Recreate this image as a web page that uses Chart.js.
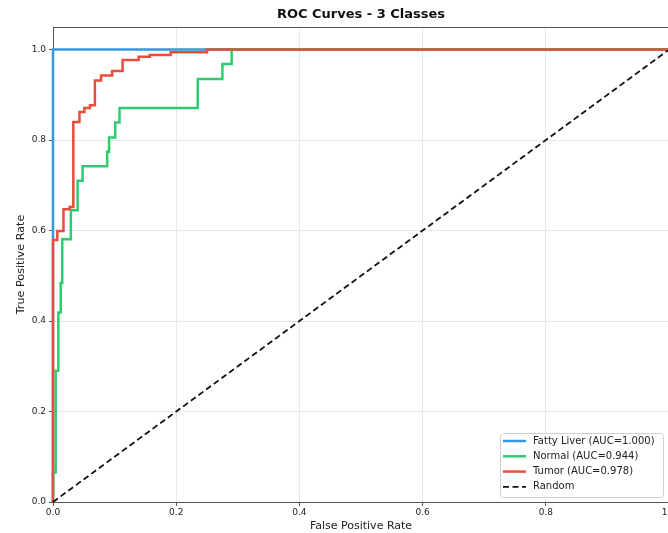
<!DOCTYPE html>
<html>
<head>
<meta charset="utf-8">
<script src="https://cdn.jsdelivr.net/npm/chart.js@4.4.0/dist/chart.umd.min.js"></script>
<style>
  html, body { margin: 0; padding: 0; background: #fff; overflow: hidden; }
  #wrap { width: 700px; height: 533px; }
</style>
</head>
<body>
<div id="wrap"><canvas id="roc" width="700" height="533"></canvas></div>
<script>
// ROC points (fpr / tpr pairs)
const fattyFpr = [0, 0, 1];
const fattyTpr = [0, 1, 1];

const normalFpr = [0, 0, 0.0044, 0.0044, 0.0086, 0.0086, 0.0125, 0.0125, 0.015, 0.015, 0.029, 0.029, 0.040, 0.040, 0.048, 0.048, 0.088, 0.088, 0.091, 0.091, 0.101, 0.101, 0.108, 0.108, 0.235, 0.235, 0.275, 0.275, 0.290, 0.290, 1];
const normalTpr = [0, 0.065, 0.065, 0.290, 0.290, 0.419, 0.419, 0.484, 0.484, 0.581, 0.581, 0.645, 0.645, 0.710, 0.710, 0.742, 0.742, 0.774, 0.774, 0.806, 0.806, 0.839, 0.839, 0.871, 0.871, 0.935, 0.935, 0.968, 0.968, 1, 1];

const tumorFpr = [0, 0, 0.007, 0.007, 0.017, 0.017, 0.027, 0.027, 0.033, 0.033, 0.043, 0.043, 0.051, 0.051, 0.060, 0.060, 0.068, 0.068, 0.078, 0.078, 0.096, 0.096, 0.113, 0.113, 0.139, 0.139, 0.157, 0.157, 0.191, 0.191, 0.250, 0.250, 1];
const tumorTpr = [0, 0.579, 0.579, 0.599, 0.599, 0.647, 0.647, 0.652, 0.652, 0.840, 0.840, 0.862, 0.862, 0.871, 0.871, 0.877, 0.877, 0.932, 0.932, 0.943, 0.943, 0.953, 0.953, 0.977, 0.977, 0.984, 0.984, 0.988, 0.988, 0.994, 0.994, 1, 1];

const randomFpr = [0, 1];
const randomTpr = [0, 1];

const seriesLabels = ['Fatty Liver (AUC=1.000)', 'Normal (AUC=0.944)', 'Tumor (AUC=0.978)', 'Random'];
const axisTicks = [0, 0.2, 0.4, 0.6, 0.8, 1.0];
const chartTitle = 'ROC Curves - 3 Classes';

function pts(xs, ys) {
  return xs.map((x, i) => ({ x: x, y: ys[i] }));
}

const FONT = 'DejaVu Sans, sans-serif';

// top/right spines + title centred over the axes (like matplotlib)
const framePlugin = {
  id: 'frame',
  afterDatasetsDraw(chart) {
    const a = chart.chartArea, ctx = chart.ctx;
    ctx.save();
    ctx.strokeStyle = '#555';
    ctx.lineWidth = 1;
    ctx.beginPath();
    ctx.moveTo(a.left, a.top + 0.5);
    ctx.lineTo(a.right, a.top + 0.5);
    ctx.lineTo(a.right, a.bottom);
    ctx.stroke();
    ctx.fillStyle = '#111';
    ctx.font = 'bold 13px ' + FONT;
    ctx.textAlign = 'center';
    ctx.textBaseline = 'middle';
    ctx.fillText(chartTitle, (a.left + a.right) / 2, 15);
    ctx.restore();
  }
};

// legend box in lower right, matplotlib style
const boxLegend = {
  id: 'boxLegend',
  afterDraw(chart) {
    const ctx = chart.ctx;
    const x0 = 500, y0 = 433, w = 163, h = 64;
    ctx.save();
    ctx.fillStyle = 'rgba(255,255,255,0.85)';
    ctx.strokeStyle = '#d0d0d0';
    ctx.lineWidth = 1;
    ctx.beginPath();
    ctx.roundRect(x0 + 0.5, y0 + 0.5, w, h, 3);
    ctx.fill();
    ctx.stroke();
    ctx.font = '10px ' + FONT;
    ctx.textBaseline = 'middle';
    chart.data.datasets.forEach((ds, i) => {
      const y = y0 + 8 + i * 15.3;
      ctx.strokeStyle = ds.borderColor;
      ctx.lineWidth = ds.borderWidth;
      ctx.setLineDash(ds.borderDash || []);
      ctx.beginPath();
      ctx.moveTo(x0 + 3, y);
      ctx.lineTo(x0 + 26, y);
      ctx.stroke();
      ctx.setLineDash([]);
      ctx.fillStyle = '#222';
      ctx.fillText(ds.label, x0 + 33, y);
    });
    ctx.restore();
  }
};

const chart = new Chart(document.getElementById('roc'), {
  type: 'scatter',
  data: {
    datasets: [
      { label: seriesLabels[0], data: pts(fattyFpr, fattyTpr), borderColor: '#3498db', borderWidth: 2.5, order: 3 },
      { label: seriesLabels[1], data: pts(normalFpr, normalTpr), borderColor: '#2ecc71', borderWidth: 2.5, order: 2 },
      { label: seriesLabels[2], data: pts(tumorFpr, tumorTpr), borderColor: '#e74c3c', borderWidth: 2.5, order: 1 },
      { label: seriesLabels[3], data: pts(randomFpr, randomTpr), borderColor: '#111', borderWidth: 1.8, borderDash: [6, 3.5], order: 0 }
    ].map(d => Object.assign(d, { showLine: true, pointRadius: 0, fill: false, tension: 0, clip: 4 }))
  },
  plugins: [framePlugin, boxLegend],
  options: {
    responsive: false,
    animation: false,
    layout: { padding: { left: 0, right: 31, top: 27, bottom: 0 } },
    plugins: {
      legend: { display: false },
      tooltip: { enabled: false },
      title: { display: false }
    },
    scales: {
      x: {
        type: 'linear', min: 0, max: 1,
        afterBuildTicks: s => { s.ticks = axisTicks.map(v => ({ value: v })); },
        afterFit: s => { s.height = 31; },
        ticks: { color: '#222', font: { family: FONT, size: 9 }, padding: 1, maxRotation: 0, callback: v => v.toFixed(1) },
        grid: { color: '#e8e8e8', tickColor: '#555', tickLength: 4 },
        border: { color: '#555', width: 1 },
        title: { display: true, text: 'False Positive Rate', color: '#222', font: { family: FONT, size: 11 }, padding: 0 }
      },
      y: {
        type: 'linear', min: 0, max: 1.05,
        afterBuildTicks: s => { s.ticks = axisTicks.map(v => ({ value: v })); },
        afterFit: s => { s.width = 53; },
        ticks: { color: '#222', font: { family: FONT, size: 9 }, padding: 3, callback: v => v.toFixed(1) },
        grid: { color: '#e8e8e8', tickColor: '#555', tickLength: 4 },
        border: { color: '#555', width: 1 },
        title: { display: true, text: 'True Positive Rate', color: '#222', font: { family: FONT, size: 11.2 }, padding: { top: 14, bottom: 0 } }
      }
    }
  }
});
</script>
</body>
</html>
